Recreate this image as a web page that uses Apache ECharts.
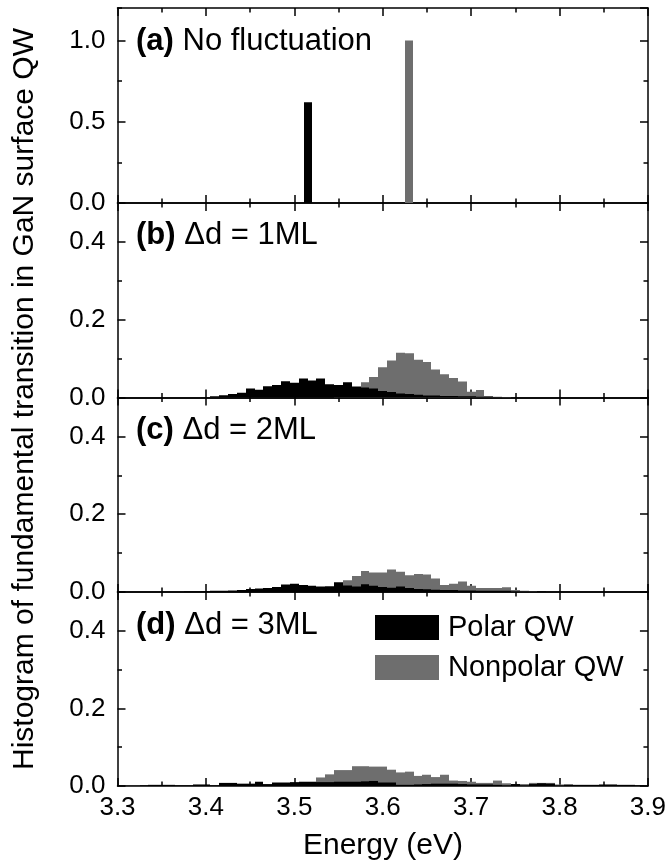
<!DOCTYPE html>
<html>
<head>
<meta charset="utf-8">
<script src="https://cdn.jsdelivr.net/npm/echarts@6/dist/echarts.min.js"></script>
<style>
html,body{margin:0;padding:0;background:#fff;}
#chart{width:669px;height:865px;}
</style>
</head>
<body>
<div id="chart"></div>
<script>
// ---------------- data ----------------
const seriesNames = ['Polar QW', 'Nonpolar QW'];
const panelLabels = ['(a)', '(b)', '(c)', '(d)'];
const panelTexts = [' No fluctuation', ' \u0394d = 1ML', ' \u0394d = 2ML', ' \u0394d = 3ML'];
const xTicks = [3.3, 3.4, 3.5, 3.6, 3.7, 3.8, 3.9];

// (a) single transitions
const energiesA = [3.515, 3.63];
const polarA    = [0.62, 0];
const nonpolarA = [0, 1.0];

// histogram bin centres (eV)
const energies = [
  3.30,3.31,3.32,3.33,3.34,3.35,3.36,3.37,3.38,3.39,
  3.40,3.41,3.42,3.43,3.44,3.45,3.46,3.47,3.48,3.49,
  3.50,3.51,3.52,3.53,3.54,3.55,3.56,3.57,3.58,3.59,
  3.60,3.61,3.62,3.63,3.64,3.65,3.66,3.67,3.68,3.69,
  3.70,3.71,3.72,3.73,3.74,3.75,3.76,3.77,3.78,3.79,
  3.80,3.81,3.82,3.83,3.84,3.85,3.86,3.87,3.88,3.89,3.90
];

// (b) Δd = 1ML
const polarB = [
  0,0,0,0,0,0,0,0,0,0,
  0.001,0.003,0.006,0.009,0.012,0.023,0.020,0.029,0.032,0.042,
  0.038,0.049,0.044,0.049,0.034,0.032,0.039,0.028,0.026,0.023,
  0.017,0.014,0.010,0.009,0.007,0.005,0.005,0.004,0.004,0.003,
  0.003,0.002,0.002,0.001,0,0,0,0,0,0,
  0,0,0,0,0,0,0,0,0,0,0
];
const nonpolarB = [
  0,0,0,0,0,0,0,0,0,0,
  0,0,0,0,0,0,0,0,0,0,
  0,0,0,0,0,0.010,0.018,0.022,0.039,0.053,
  0.078,0.095,0.115,0.114,0.097,0.091,0.072,0.060,0.050,0.041,
  0.015,0.019,0.004,0.002,0.001,0,0,0,0,0,
  0,0,0,0,0,0,0,0,0,0,0
];

// (c) Δd = 2ML
const polarC = [
  0,0,0,0,0,0,0,0,0.001,0.001,
  0.002,0.003,0.003,0.004,0.005,0.008,0.009,0.010,0.013,0.019,
  0.021,0.018,0.016,0.014,0.015,0.025,0.017,0.014,0.020,0.016,
  0.013,0.011,0.014,0.010,0.008,0.007,0.006,0.005,0.005,0.004,
  0.004,0.003,0.003,0.003,0.003,0.002,0.002,0.001,0.001,0,
  0,0,0,0,0,0,0,0,0,0,0
];
const nonpolarC = [
  0,0,0,0,0,0,0,0,0,0,
  0,0,0,0,0,0,0,0,0,0,
  0,0,0,0,0.012,0.020,0.030,0.041,0.054,0.050,
  0.050,0.058,0.052,0.043,0.046,0.045,0.035,0.018,0.021,0.027,
  0.016,0.010,0.010,0.010,0.012,0.005,0.003,0.001,0,0,
  0,0,0,0,0,0,0,0,0,0,0
];

// (d) Δd = 3ML
const polarD = [
  0.001,0.001,0.001,0.002,0.003,0.003,0.003,0.002,0.002,0.004,
  0.004,0.002,0.008,0.008,0.006,0.006,0.011,0.005,0.009,0.009,
  0.010,0.011,0.011,0.010,0.010,0.011,0.011,0.011,0.012,0.013,
  0.009,0.009,0.003,0.003,0.004,0.005,0.006,0.006,0.006,0.005,
  0.004,0.004,0.004,0.003,0.002,0.005,0.002,0.005,0.007,0.006,
  0.002,0.004,0.003,0.003,0.003,0.004,0.004,0.003,0.003,0.002,0.001
];
const nonpolarD = [
  0,0,0,0,0,0,0,0,0,0,
  0,0,0,0,0,0,0,0,0,0,
  0,0,0,0.022,0.030,0.041,0.041,0.051,0.051,0.050,
  0.050,0.042,0.035,0.037,0.026,0.029,0.023,0.029,0.014,0.013,
  0.011,0.008,0.008,0.014,0.007,0.005,0.005,0.008,0.008,0.008,
  0.004,0.002,0,0,0,0,0,0,0,0,0
];

// ---------------- layout / style ----------------
const FONT = '"Liberation Sans", Arial, Helvetica, sans-serif';
const BLACK = '#000000';
const GRAY = '#6e6e6e';
const gridTops = [8, 203, 397.5, 592];
const gridHeights = [195, 194.5, 194.5, 194];
const gridLeft = 117.5, gridRight = 21;
const yMaxes = [1.2, 0.5, 0.5, 0.5];
const yMajors = [0.5, 0.2, 0.2, 0.2];
const yMinors = [0.25, 0.1, 0.1, 0.1];
const labelY = [41, 235, 430, 625];
const barWidths = [0.009, 0.01, 0.01, 0.01];

const panelData = [
  [energiesA, polarA, nonpolarA],
  [energies, polarB, nonpolarB],
  [energies, polarC, nonpolarC],
  [energies, polarD, nonpolarD]
];

const LW = 1.5;
const lineStyle = {color: BLACK, width: LW};

function histRender(w) {
  return function (params, api) {
    const x = api.value(0), y = api.value(1);
    if (!y) return null;
    const p0 = api.coord([x - w / 2, y]);
    const p1 = api.coord([x + w / 2, 0]);
    const x0 = Math.round(p0[0]), x1 = Math.round(p1[0]);
    return {
      type: 'rect',
      shape: {x: x0, y: p0[1], width: x1 - x0, height: p1[1] - p0[1]},
      style: {fill: api.visual('color')}
    };
  };
}

const grids = [], xAxes = [], yAxes = [], series = [], graphics = [];

for (let g = 0; g < 4; g++) {
  grids.push({left: gridLeft, right: gridRight, top: gridTops[g], height: gridHeights[g], containLabel: false});
  const isBottom = g === 3;
  ['bottom', 'top'].forEach(function (pos) {
    xAxes.push({
      gridIndex: g, type: 'value', position: pos,
      min: xTicks[0], max: xTicks[xTicks.length - 1], interval: 0.1,
      axisLine: {show: true, onZero: false, lineStyle: lineStyle},
      axisTick: {show: true, inside: true, length: 8, lineStyle: lineStyle},
      minorTick: {show: true, splitNumber: 2, length: 4.5, lineStyle: lineStyle},
      splitLine: {show: false}, minorSplitLine: {show: false},
      axisLabel: {
        show: isBottom && pos === 'bottom', margin: 9,
        fontSize: 26, fontFamily: FONT, color: BLACK,
        formatter: function (v) { return v.toFixed(1); }
      }
    });
  });
  ['left', 'right'].forEach(function (pos) {
    // major ticks + labels
    yAxes.push({
      gridIndex: g, type: 'value', position: pos,
      min: 0, max: yMaxes[g], interval: yMajors[g],
      axisLine: {show: true, onZero: false, lineStyle: lineStyle},
      axisTick: {show: true, inside: true, length: 8, lineStyle: lineStyle},
      splitLine: {show: false},
      axisLabel: {
        show: pos === 'left', margin: 12, showMaxLabel: false,
        fontSize: 26, fontFamily: FONT, color: BLACK,
        formatter: function (v) { return v.toFixed(1); }
      }
    });
    // minor ticks
    yAxes.push({
      gridIndex: g, type: 'value', position: pos,
      min: 0, max: yMaxes[g], interval: yMinors[g],
      axisLine: {show: false},
      axisTick: {show: true, inside: true, length: 4.5, lineStyle: lineStyle},
      splitLine: {show: false},
      axisLabel: {show: false}
    });
  });

  const d = panelData[g];
  const xi = g * 2, yi = g * 4;
  series.push({
    name: seriesNames[1], type: 'custom', xAxisIndex: xi, yAxisIndex: yi,
    itemStyle: {color: GRAY}, clip: true, silent: true,
    renderItem: histRender(barWidths[g]),
    data: d[0].map(function (e, i) { return [e, d[2][i]]; })
  });
  series.push({
    name: seriesNames[0], type: 'custom', xAxisIndex: xi, yAxisIndex: yi,
    itemStyle: {color: BLACK}, clip: true, silent: true,
    renderItem: histRender(barWidths[g]),
    data: d[0].map(function (e, i) { return [e, d[1][i]]; })
  });

  graphics.push({
    type: 'text', x: 136, y: labelY[g], silent: true,
    style: {
      text: '{b|' + panelLabels[g] + '}' + panelTexts[g],
      fontSize: 31, fontFamily: FONT, fill: BLACK,
      verticalAlign: 'middle', align: 'left',
      rich: {b: {fontSize: 31, fontFamily: FONT, fontWeight: 'bold', fill: BLACK}}
    }
  });
}

graphics.push({
  type: 'text', x: 25, y: 399, rotation: Math.PI / 2, silent: true,
  style: {
    text: 'Histogram of fundamental transition in GaN surface QW',
    fontSize: 30, fontFamily: FONT, fill: BLACK, align: 'center', verticalAlign: 'middle'
  }
});
graphics.push({
  type: 'text', x: 383, y: 846, silent: true,
  style: {
    text: 'Energy (eV)',
    fontSize: 30, fontFamily: FONT, fill: BLACK, align: 'center', verticalAlign: 'middle'
  }
});

const option = {
  animation: false,
  backgroundColor: '#ffffff',
  grid: grids,
  xAxis: xAxes,
  yAxis: yAxes,
  legend: {
    orient: 'vertical', left: 375, top: 613, padding: 0,
    itemWidth: 64, itemHeight: 25, itemGap: 11,
    selectedMode: false,
    data: [
      {name: seriesNames[0], icon: 'rect', itemStyle: {color: BLACK}},
      {name: seriesNames[1], icon: 'rect', itemStyle: {color: GRAY}}
    ],
    textStyle: {fontSize: 29, fontFamily: FONT, color: BLACK, lineHeight: 25, padding: [0, 0, 0, 4]}
  },
  graphic: graphics,
  series: series
};

const chart = echarts.init(document.getElementById('chart'), null, {renderer: 'canvas'});
chart.setOption(option);
</script>
</body>
</html>
